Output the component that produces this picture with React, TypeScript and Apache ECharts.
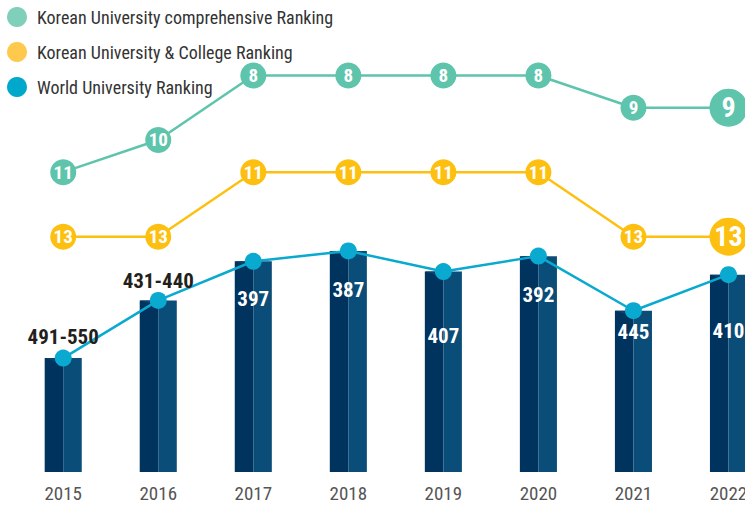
import React, { useEffect, useRef } from "react";
import * as echarts from "echarts";

const years = ["2015", "2016", "2017", "2018", "2019", "2020", "2021", "2022"];
const comprehensiveRank = [11, 10, 8, 8, 8, 8, 9, 9];
const collegeRank = [13, 13, 11, 11, 11, 11, 13, 13];
const worldRank = [491, 435, 397, 387, 407, 392, 445, 410];
const worldLabels = ["491-550", "431-440", "397", "387", "407", "392", "445", "410"];
const seriesNames = [
  "Korean University comprehensive Ranking",
  "Korean University & College Ranking",
  "World University Ranking",
];

const FONT = "'Roboto Condensed', Roboto, sans-serif";

export default function App() {
  const ref = useRef<HTMLDivElement>(null);
  useEffect(() => {
    document.body.style.margin = "0";
    const chart = echarts.init(ref.current!, null, { renderer: "svg" });
    const last = years.length - 1;
    const worldOffsets = [-21, -19, 38, 39, 64, 39, 21, 56];

    const markerData = (vals: number[]) =>
      vals.map((v, i) =>
        i === last
          ? { value: v, symbolSize: 38, label: { fontSize: 28 } }
          : { value: v }
      );

    const option: any = {
      animation: false,
      textStyle: { fontFamily: FONT },
      legend: {
        orient: "vertical",
        left: 2,
        top: 2,
        itemWidth: 20,
        itemHeight: 20,
        itemGap: 15,
        icon: "circle",
        textStyle: { fontSize: 18, color: "#333", fontFamily: FONT, padding: [0, 0, 0, 5] },
        data: [
          { name: seriesNames[0], itemStyle: { color: "#80cfbb" } },
          { name: seriesNames[1], itemStyle: { color: "#ffc94d" } },
          { name: seriesNames[2], itemStyle: { color: "#00a9cc" } },
        ],
      },
      grid: { left: 15.7, right: 0, top: 11, bottom: 37 },
      xAxis: {
        type: "category",
        data: years,
        axisLine: { show: false },
        axisTick: { show: false },
        axisLabel: { color: "#555", fontSize: 19, margin: 12, fontFamily: FONT },
      },
      yAxis: [
        { type: "value", inverse: true, min: 6, max: 20.3, show: false },
        { type: "value", inverse: true, min: 154, max: 601.6, show: false },
      ],
      series: [
        {
          type: "custom",
          name: "bars",
          yAxisIndex: 1,
          z: 1,
          silent: true,
          data: worldRank.map((v, i) => [i, v]),
          renderItem: (params: any, api: any) => {
            const pt = api.coord([api.value(0), api.value(1)]);
            const cs = params.coordSys;
            const bottom = cs.y + cs.height;
            const w = api.size([1, 0])[0] * 0.39;
            const x0 = pt[0] - w / 2;
            const top = pt[1];
            return {
              type: "group",
              children: [
                { type: "rect", shape: { x: x0, y: top, width: w / 2, height: bottom - top }, style: { fill: "#00335e" } },
                { type: "rect", shape: { x: x0 + w / 2, y: top, width: w / 2, height: bottom - top }, style: { fill: "#0a4d78" } },
                { type: "polygon", shape: { points: [[x0, top], [x0 + w / 2, top], [x0 + w / 2, top + 6]] }, style: { fill: "#0b416b" } },
              ],
            };
          },
        },
        {
          type: "line",
          name: seriesNames[2],
          yAxisIndex: 1,
          z: 3,
          data: worldRank.map((v, i) => ({
            value: v,
            label: {
              show: true,
              formatter: worldLabels[i],
              position: "inside",
              offset: [0, worldOffsets[i]],
              color: worldOffsets[i] < 0 ? "#231f20" : "#fff",
              fontSize: worldOffsets[i] < 0 ? 21 : 21,
              fontWeight: "bold",
              fontFamily: FONT,
            },
          })),
          symbol: "circle",
          symbolSize: 17,
          itemStyle: { color: "#0aa9cf" },
          lineStyle: { color: "#0aa9cf", width: 2.5 },
        },
        {
          type: "line",
          name: seriesNames[0],
          yAxisIndex: 0,
          z: 3,
          data: markerData(comprehensiveRank),
          symbol: "circle",
          symbolSize: 26,
          itemStyle: { color: "#5ec4ac" },
          lineStyle: { color: "#5ec4ac", width: 2.5 },
          label: { show: true, position: "inside", color: "#fff", fontSize: 19, fontWeight: "bold", fontFamily: FONT },
        },
        {
          type: "line",
          name: seriesNames[1],
          yAxisIndex: 0,
          z: 3,
          data: markerData(collegeRank),
          symbol: "circle",
          symbolSize: 26,
          itemStyle: { color: "#fdc010" },
          lineStyle: { color: "#fdc010", width: 2.5 },
          label: { show: true, position: "inside", color: "#fff", fontSize: 19, fontWeight: "bold", fontFamily: FONT },
        },
      ],
    };
    chart.setOption(option);
    return () => chart.dispose();
  }, []);
  return (
    <div style={{ width: 745, height: 509, overflow: "hidden", position: "relative" }}>
      <div ref={ref} style={{ width: 776, height: 509 }} />
    </div>
  );
}
